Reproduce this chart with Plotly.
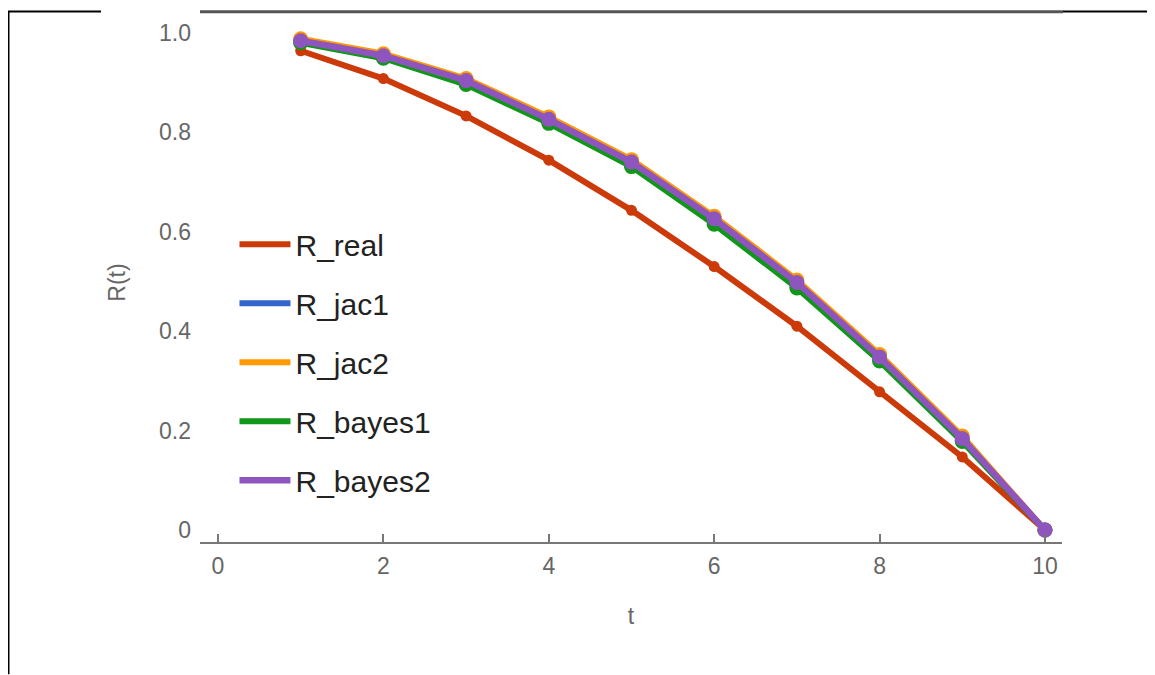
import plotly.graph_objects as go

t = [1, 2, 3, 4, 5, 6, 7, 8, 9, 10]
R_real = [0.964, 0.908, 0.833, 0.744, 0.643, 0.530, 0.410, 0.278, 0.147, 0.0]
R_jac1 = [0.982, 0.951, 0.900, 0.822, 0.736, 0.621, 0.492, 0.343, 0.180, 0.0]
R_jac2 = [0.988, 0.958, 0.908, 0.831, 0.745, 0.631, 0.503, 0.353, 0.189, 0.0]
R_bayes1 = [0.980, 0.949, 0.896, 0.818, 0.731, 0.615, 0.487, 0.340, 0.178, 0.0]
R_bayes2 = [0.984, 0.954, 0.904, 0.826, 0.740, 0.626, 0.498, 0.348, 0.184, 0.0]

series_names = ["R_real", "R_jac1", "R_jac2", "R_bayes1", "R_bayes2"]
series_values = [R_real, R_jac1, R_jac2, R_bayes1, R_bayes2]
colors = ["#cc3a0a", "#3366cc", "#ff9900", "#109618", "#8f55bf"]
line_widths = [6, 6, 6, 6, 6.5]
marker_sizes = [11, 15, 15, 15, 15]

x_ticks = [0, 2, 4, 6, 8, 10]
y_ticks = [0, 0.2, 0.4, 0.6, 0.8, 1.0]
y_ticktext = ["0", "0.2", "0.4", "0.6", "0.8", "1.0"]

FONT = "Arial, Liberation Sans, sans-serif"

# the page body adds an 8px offset; figure is sized to the visible area
W, H = 1147, 667
L, R, T, B = 192, 93, 12, 133

fig = go.Figure()
for i, (name, vals, col) in enumerate(zip(series_names, series_values, colors)):
    fig.add_trace(go.Scatter(
        x=t, y=vals, mode="lines", name=name,
        line=dict(color=col, width=line_widths[i]),
        legendgroup=name, showlegend=True, cliponaxis=False,
        hoverinfo="skip",
    ))
    fig.add_trace(go.Scatter(
        x=t, y=vals, mode="markers", name=name,
        marker=dict(color=col, size=marker_sizes[i]),
        legendgroup=name, showlegend=False, cliponaxis=False,
    ))

fig.update_layout(
    width=W, height=H,
    margin=dict(l=L, r=R, t=T, b=B),
    paper_bgcolor="white", plot_bgcolor="white",
    font=dict(family=FONT, color="#666666", size=23),
    legend=dict(
        x=0.04, y=0.624, xanchor="left", yanchor="top",
        font=dict(family=FONT, size=30, color="#222222"),
        bgcolor="rgba(0,0,0,0)", itemwidth=51, tracegroupgap=17,
        traceorder="grouped",
    ),
    xaxis=dict(
        range=[-0.2177, 10.206], tickvals=x_ticks,
        showline=True, linecolor="#777777", linewidth=2,
        ticks="inside", ticklen=8, tickwidth=2, tickcolor="#777777",
        showgrid=False, zeroline=False,
        ticklabelstandoff=2,
        title=dict(text="t", standoff=30, font=dict(size=23, color="#666666")),
        tickfont=dict(size=23, color="#666666"),
    ),
    yaxis=dict(
        range=[-0.024, 1.0198], tickvals=y_ticks, ticktext=y_ticktext,
        showline=False, showgrid=False, zeroline=False, ticks="",
        ticklabelstandoff=8,
        title=dict(text="R(t)", standoff=26, font=dict(size=23, color="#666666")),
        tickfont=dict(size=23, color="#666666"),
    ),
    showlegend=True,
)

# page frame lines (screenshot border); page coords shifted by the 8px body offset
pw, ph = W - L - R, H - T - B
px_to_paper_x = lambda px: (px - L) / pw
px_to_paper_y = lambda py: (H - B - py) / ph
frame = [
    (0.5, 667, 0.5, 0.5, "black", 2),
    (0, 0.5, 93, 0.5, "black", 2),
    (192, 0.8, 1055, 0.8, "#555555", 3),
    (1055, 0.5, 1147, 0.5, "black", 2),
]
for x0, y0, x1, y1, c, w in frame:
    fig.add_shape(type="line", xref="paper", yref="paper",
                  x0=px_to_paper_x(x0), y0=px_to_paper_y(y0),
                  x1=px_to_paper_x(x1), y1=px_to_paper_y(y1),
                  line=dict(color=c, width=w), layer="above")

fig.write_html("out.html")
